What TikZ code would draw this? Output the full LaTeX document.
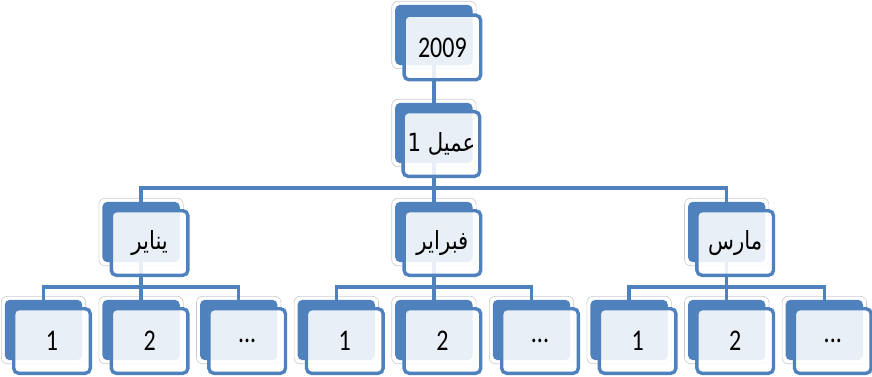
\documentclass[tikz,border=0pt]{standalone}
\usepackage{fontspec}
\setmainfont{Carlito}
\newfontfamily\arabicfont[Script=Arabic]{DejaVu Sans}
\TeXXeTstate=1
\definecolor{ablue}{HTML}{4F81BD}
\tikzset{
  backbox/.style={fill=ablue, minimum width=77pt, minimum height=60pt, inner sep=0pt, rounded corners=5pt},
  frontbox/.style={draw=ablue, line width=3.4pt, fill=white, fill opacity=0.88, text opacity=1,
    minimum width=76.6pt, minimum height=64.6pt, inner sep=0pt, rounded corners=5pt,
    font=\fontsize{30}{34}\selectfont},
  halo/.style={draw=black!20, line width=0.6pt, fill=white, rounded corners=6pt},
  conn/.style={draw=ablue, line width=3.4pt},
}
\newcommand{\ar}[1]{\scalebox{0.85}[1]{\arabicfont\fontsize{25}{30}\selectfont\beginR #1\endR}}
\newcommand{\sq}[1]{\scalebox{0.8}[1]{#1}}
\begin{document}
\begin{tikzpicture}[x=1pt,y=-1pt]
\useasboundingbox (0,0) rectangle (872,377);
% back boxes
\node[backbox] (b1) at (433.9,35) {};
\node[backbox] (b2) at (433.9,133) {};
\node[backbox] (b3a) at (141.1,232) {};
\node[backbox] (b3b) at (433.9,232) {};
\node[backbox] (b3c) at (726.7,232) {};
\node[backbox] (c1) at (43.5,330) {};
\node[backbox] (c2) at (141.1,330) {};
\node[backbox] (c3) at (238.7,330) {};
\node[backbox] (c4) at (336.3,330) {};
\node[backbox] (c5) at (433.9,330) {};
\node[backbox] (c6) at (531.5,330) {};
\node[backbox] (c7) at (629.1,330) {};
\node[backbox] (c8) at (726.7,330) {};
\node[backbox] (c9) at (824.3,330) {};
% halos behind back boxes
\foreach \n in {b1,b2,b3a,b3b,b3c,c1,c2,c3,c4,c5,c6,c7,c8,c9}{
  \draw[halo] ([xshift=-3.5pt,yshift=3.5pt]\n.north west) rectangle ([xshift=3.5pt,yshift=-3.5pt]\n.south east);
  \fill[ablue, rounded corners=5pt] (\n.north west) rectangle (\n.south east);
}
% connectors
\coordinate (bus1) at (433.9,188);
\coordinate (busa) at (141.1,287);
\coordinate (busb) at (433.9,287);
\coordinate (busc) at (726.7,287);
\draw[conn] (b1.south) -- (b2.north);
\draw[conn] (b2.south) -- (bus1);
\draw[conn] (b3a.north) |- (bus1) -| (b3c.north);
\draw[conn] (bus1) -- (b3b.north);
\draw[conn] (b3a.south) -- (busa);
\draw[conn] (c1.north) |- (busa) -| (c3.north);
\draw[conn] (busa) -- (c2.north);
\draw[conn] (b3b.south) -- (busb);
\draw[conn] (c4.north) |- (busb) -| (c6.north);
\draw[conn] (busb) -- (c5.north);
\draw[conn] (b3c.south) -- (busc);
\draw[conn] (c7.north) |- (busc) -| (c9.north);
\draw[conn] (busc) -- (c8.north);
% front boxes
\node[frontbox] (f1) at (442.4,47.5) {\sq{2009}};
\node[frontbox] (f2) at (441.4,144) {\ar{عميل 1}};
\node[frontbox] (f3a) at (149.6,243) {\ar{يناير}};
\node[frontbox] (f3b) at (442.4,243) {\ar{فبراير}};
\node[frontbox] (f3c) at (735.2,243) {\ar{مارس}};
\node[frontbox] (g1) at (52,341) {\sq{1}};
\node[frontbox] (g2) at (149.6,341) {\sq{2}};
\node[frontbox] (g3) at (247.2,341) {\sq{...}};
\node[frontbox] (g4) at (344.8,341) {\sq{1}};
\node[frontbox] (g5) at (442.4,341) {\sq{2}};
\node[frontbox] (g6) at (540,341) {\sq{...}};
\node[frontbox] (g7) at (637.6,341) {\sq{1}};
\node[frontbox] (g8) at (735.2,341) {\sq{2}};
\node[frontbox] (g9) at (832.8,341) {\sq{...}};
\end{tikzpicture}
\end{document}
